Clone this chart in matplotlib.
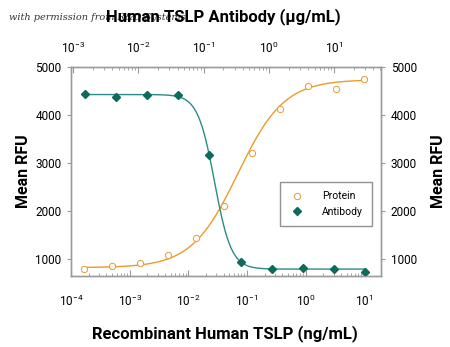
import numpy as np
import matplotlib
matplotlib.use("Agg")
import matplotlib.pyplot as plt
from matplotlib.ticker import LogLocator, NullFormatter

plt.rcParams['font.family'] = ['Roboto', 'DejaVu Sans']
plt.rcParams['mathtext.fontset'] = 'custom'
plt.rcParams['mathtext.rm'] = 'Roboto'

# protein concentrations (ng/mL, bottom axis) and mean RFU
protein_conc = [1.69e-4, 5.08e-4, 1.52e-3, 4.57e-3, 0.0137, 0.0412, 0.123, 0.370, 1.11, 3.33, 10.0]
protein_rfu = [785, 860, 910, 1075, 1445, 2100, 3200, 4120, 4600, 4530, 4750]

# antibody concentrations (ug/mL, top axis) and mean RFU
antibody_conc = [1.52e-3, 4.57e-3, 0.0137, 0.0412, 0.123, 0.370, 1.11, 3.33, 10.0, 30.0]
antibody_rfu = [4430, 4365, 4420, 4405, 3165, 940, 790, 805, 785, 740]

# 4PL fit parameters: low plateau, high plateau, EC50, hill
protein_fit = [820, 4730, 0.07, 1.1]
antibody_fit = [790, 4420, 0.147, 3.4]

orange = '#ec9a2a'
teal_line = '#2a8c86'
teal_mark = '#0d6b5c'
grey = '#9a9a9a'


def four_pl(x, p, rising=True):
    low, high, mid, hill = p
    if rising:
        return low + (high - low) / (1 + (mid / x) ** hill)
    return low + (high - low) / (1 + (x / mid) ** hill)


fig = plt.figure(figsize=(4.5, 3.47), dpi=100)
ax = fig.add_axes([0.158, 0.2055, 0.689, 0.6025])
ax_top = ax.twiny()
ax_right = ax.twinx()

ax.set_xscale('log')
ax.set_xlim(1e-4, 10 ** 1.29)
ax.set_ylim(653, 5000)
ax_top.set_xscale('log')
ax_top.set_xlim(10 ** -3.03, 10 ** 1.72)
ax_right.set_ylim(ax.get_ylim())

# fitted curves
xs = np.logspace(np.log10(protein_conc[0]), np.log10(protein_conc[-1]), 300)
ax.plot(xs, four_pl(xs, protein_fit), color=orange, lw=1.0)
xa = np.logspace(np.log10(antibody_conc[0]), np.log10(antibody_conc[-1]), 300)
ax_top.plot(xa, four_pl(xa, antibody_fit, rising=False), color=teal_line, lw=1.0)

# data points
p1, = ax.plot(protein_conc, protein_rfu, 'o', ms=4.5, mfc='white', mec=orange, mew=0.7,
              label='Protein', zorder=5)
p2, = ax_top.plot(antibody_conc, antibody_rfu, 'D', ms=4.5, color=teal_mark,
                  label='Antibody', zorder=5)

for a in (ax, ax_top, ax_right):
    for s in a.spines.values():
        s.set_color(grey)
        s.set_linewidth(0.9)

ax.set_yticks([1000, 2000, 3000, 4000, 5000])
ax_right.set_yticks([1000, 2000, 3000, 4000, 5000])
ax.tick_params(axis='y', direction='out', length=3, width=0.8, color=grey, labelsize=8.5, pad=4)
ax_right.tick_params(axis='y', direction='out', length=3, width=0.8, color=grey, labelsize=8.5, pad=4)

for a in (ax, ax_top):
    a.xaxis.set_major_locator(LogLocator(base=10, numticks=12))
    a.xaxis.set_minor_locator(LogLocator(base=10, subs=np.arange(2, 10), numticks=12))
    a.xaxis.set_minor_formatter(NullFormatter())
ax.tick_params(axis='x', which='major', direction='in', length=4, width=0.8, color=grey,
               labelsize=8.5, pad=13)
ax.tick_params(axis='x', which='minor', direction='in', length=2, width=0.6, color=grey)
ax_top.tick_params(axis='x', which='major', direction='in', length=4, width=0.8, color=grey,
                   labelsize=8.5, pad=8)
ax_top.tick_params(axis='x', which='minor', direction='in', length=2, width=0.6, color=grey)

ax.set_ylabel('Mean RFU', fontsize=11.5, fontweight='bold', labelpad=3)
ax_right.set_ylabel('Mean RFU', fontsize=11.5, fontweight='bold', labelpad=10)
fig.text(0.5, 0.04, 'Recombinant Human TSLP (ng/mL)', ha='center', va='center',
         fontsize=12, fontweight='bold')
fig.text(0.496, 0.951, 'Human TSLP Antibody (\u03bcg/mL)', ha='center', va='center',
         fontsize=12, fontweight='bold')
fig.text(0.02, 0.951, 'with permission from R&D Systems', ha='left', va='center',
         fontsize=7, style='italic', family='DejaVu Serif', color='#333333', zorder=0)

ax_right.legend([p1, p2], ['Protein', 'Antibody'], loc='upper left',
                bbox_to_anchor=(0.674, 0.448), borderaxespad=0, frameon=True, fancybox=False,
                edgecolor='#777777', fontsize=7.5, handletextpad=1.6,
                borderpad=0.9, labelspacing=0.5, handlelength=1.5)

fig.savefig('out.png', dpi=100)
